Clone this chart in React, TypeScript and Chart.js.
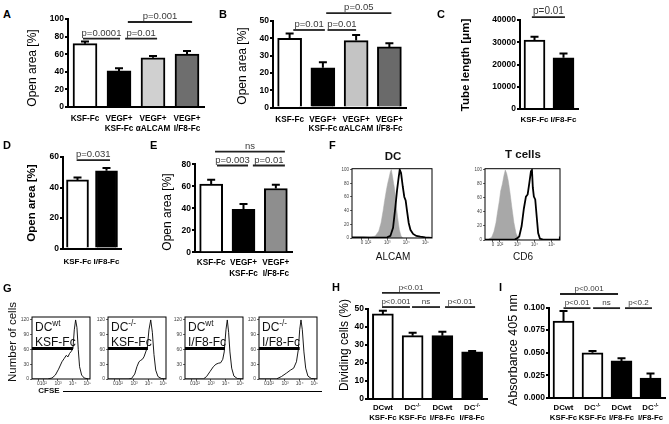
import React, { useEffect, useRef } from 'react';
import { Chart, registerables } from 'chart.js';

Chart.register(...registerables);

const FONT = "'Liberation Sans', Arial, Helvetica, sans-serif";
Chart.defaults.font.family = FONT;

// ---------------- DATA ----------------
// Panel A
const aCategories = [['KSF-Fc'], ['VEGF+', 'KSF-Fc'], ['VEGF+', 'αALCAM'], ['VEGF+', 'I/F8-Fc']];
const aValues = [72, 41, 56, 60];
const aErrors = [2.3, 3, 2, 3.5];
const aTicks = [0, 20, 40, 60, 80, 100];
const aTickLabels = ['0', '20', '40', '60', '80', '100'];
const aColors = ['#ffffff', '#000000', '#d0d0d0', '#6e6e6e'];
const aBrackets = [
  { from: -0.06, to: 1.03, y: 77.8, text: 'p=0.0001' },
  { from: 1.18, to: 2.12, y: 77.8, text: 'p=0.01' },
  { from: 1.26, to: 3.15, y: 96.6, text: 'p=0.001' },
];

// Panel B
const bCategories = [['KSF-Fc'], ['VEGF+', 'KSF-Fc'], ['VEGF+', 'αALCAM'], ['VEGF+', 'I/F8-Fc']];
const bValues = [40, 23, 38.7, 35];
const bErrors = [2.8, 3.2, 3.2, 2.1];
const bTicks = [0, 10, 20, 30, 40, 50];
const bTickLabels = ['0', '10', '20', '30', '40', '50'];
const bColors = ['#ffffff', '#000000', '#c4c4c4', '#6a6a6a'];
const bBrackets = [
  { from: 0.11, to: 1.06, y: 44.8, text: 'p=0.01' },
  { from: 1.14, to: 2.0, y: 44.8, text: 'p=0.01' },
  { from: 1.1, to: 3.06, y: 54.5, text: 'p=0.05' },
];

// Panel C
const cCategories = [['KSF-Fc'], ['I/F8-Fc']];
const cValues = [31000, 23000];
const cErrors = [1500, 2000];
const cTicks = [0, 10000, 20000, 30000, 40000];
const cTickLabels = ['0', '10000', '20000', '30000', '40000'];
const cColors = ['#ffffff', '#000000'];
const cBrackets = [{ from: -0.09, to: 1.05, y: 41300, text: 'p=0.01' }];

// Panel D
const dCategories = [['KSF-Fc'], ['I/F8-Fc']];
const dValues = [45, 51];
const dErrors = [1.6, 1.8];
const dTicks = [0, 20, 40, 60];
const dTickLabels = ['0', '20', '40', '60'];
const dColors = ['#ffffff', '#000000'];
const dBrackets = [{ from: -0.03, to: 1.12, y: 58, text: 'p=0.031' }];

// Panel E
const eCategories = [['KSF-Fc'], ['VEGF+', 'KSF-Fc'], ['VEGF+', 'I/F8-Fc']];
const eValues = [62, 39, 58];
const eErrors = [4, 5, 3.5];
const eTicks = [0, 20, 40, 60, 80];
const eTickLabels = ['0', '20', '40', '60', '80'];
const eColors = ['#ffffff', '#000000', '#8e8e8e'];
const eBrackets = [
  { from: 0.12, to: 2.28, y: 91.5, text: 'ns' },
  { from: 0.18, to: 1.14, y: 78.9, text: 'p=0.003' },
  { from: 1.29, to: 2.28, y: 78.9, text: 'p=0.01' },
];

// Panel H
const hCategories = [['DCwt', 'KSF-Fc'], ['DC^-/-', 'KSF-Fc'], ['DCwt', 'I/F8-Fc'], ['DC^-/-', 'I/F8-Fc']];
const hValues = [47, 35, 35, 26];
const hErrors = [1.7, 1.6, 2.1, 0.5];
const hTicks = [0, 10, 20, 30, 40, 50];
const hTickLabels = ['0', '10', '20', '30', '40', '50'];
const hColors = ['#ffffff', '#ffffff', '#000000', '#000000'];
const hBrackets = [
  { from: -0.03, to: 1.92, y: 58.6, text: 'p<0.01' },
  { from: -0.03, to: 0.91, y: 50.8, text: 'p<0.001' },
  { from: 0.98, to: 1.92, y: 50.8, text: 'ns' },
  { from: 2.09, to: 3.1, y: 50.8, text: 'p<0.01' },
];

// Panel I
const iCategories = [['DCwt', 'KSF-Fc'], ['DC^-/-', 'KSF-Fc'], ['DCwt', 'I/F8-Fc'], ['DC^-/-', 'I/F8-Fc']];
const iValues = [0.085, 0.05, 0.041, 0.022];
const iErrors = [0.011, 0.002, 0.003, 0.005];
const iTicks = [0, 0.025, 0.05, 0.075, 0.1];
const iTickLabels = ['0.000', '0.025', '0.050', '0.075', '0.100'];
const iColors = ['#ffffff', '#ffffff', '#000000', '#000000'];
const iBrackets = [
  { from: -0.12, to: 1.88, y: 0.1149, text: 'p<0.001' },
  { from: 0.0, to: 0.93, y: 0.0993, text: 'p<0.01' },
  { from: 1.02, to: 1.95, y: 0.0993, text: 'ns' },
  { from: 2.12, to: 3.05, y: 0.0993, text: 'p<0.2' },
];

// Panel F histograms (x in log10 units, y in % of max)
const flowTickLabels = ['0', '10²', '10³', '10⁴', '10⁵'];
const fPctTicks = [0, 20, 40, 60, 80, 100];
const fPctLabels = ['0', '20', '40', '60', '80', '100'];
const dcTicksX = [1.68, 2, 3, 4, 5];
const dcIsoX = [1.16, 2.0, 2.12, 2.38, 2.56, 2.68, 2.79, 2.87, 2.96, 3.03, 3.1, 3.17, 3.22, 3.27, 3.34, 3.4, 3.47, 3.55, 3.64, 3.73, 3.83, 5.35];
const dcIsoY = [0, 0, 1, 3, 10, 22, 40, 55, 70, 80, 88, 97, 100, 92, 80, 70, 50, 30, 12, 3, 0, 0];
const dcAlcamX = [1.16, 1.77, 2.3, 3.0, 3.17, 3.31, 3.43, 3.52, 3.61, 3.66, 3.73, 3.82, 3.9, 3.97, 4.04, 4.13, 4.22, 4.36, 4.53, 4.74, 5.0, 5.35];
const dcAlcamY = [1, 1, 0.5, 1, 3, 15, 45, 70, 90, 100, 95, 75, 60, 55, 40, 22, 12, 6, 3, 2, 1, 0];
const tTicksX = [1.59, 2, 3, 4, 5];
const tIsoX = [1.13, 1.2, 1.32, 1.52, 1.65, 1.77, 1.86, 1.96, 2.04, 2.14, 2.23, 2.31, 2.39, 2.48, 2.58, 2.7, 2.81, 2.93, 3.06, 3.2, 5.49];
const tIsoY = [0, 0, 1, 4, 12, 25, 40, 55, 70, 80, 92, 100, 95, 85, 68, 45, 25, 10, 3, 0, 0];
const tCd6X = [1.13, 2.19, 2.87, 2.97, 3.12, 3.26, 3.39, 3.51, 3.61, 3.7, 3.8, 3.86, 3.91, 3.97, 4.05, 4.13, 4.22, 4.32, 4.51, 5.44, 5.48];
const tCd6Y = [0.5, 0.5, 1, 2, 5, 20, 45, 62, 65, 80, 98, 100, 75, 62, 58, 35, 10, 2, 0.5, 0.5, 5];

// Panel G CFSE histograms
const gTicksX = [1.66, 2, 3, 4, 5];
const gCountTicks = [0, 30, 60, 90, 120];
const gCountLabels = ['0', '30', '60', '90', '120'];
const g1X = [1.23, 2.3, 2.59, 2.82, 3.04, 3.27, 3.43, 3.56, 3.68, 3.79, 3.9, 4.02, 4.11, 4.2, 4.29, 4.38, 4.47, 4.61, 4.79, 5.08, 5.18];
const g1Y = [0, 0, 2, 8, 20, 35, 42, 48, 45, 52, 56, 62, 100, 120, 105, 60, 25, 8, 2, 0, 0];
const g2X = [1.23, 2.6, 2.83, 3.05, 3.2, 3.34, 3.46, 3.57, 3.68, 3.8, 3.91, 4.02, 4.14, 4.25, 4.36, 4.48, 4.63, 4.86, 5.18];
const g2Y = [0, 0, 1, 10, 25, 35, 38, 40, 45, 55, 65, 100, 120, 95, 50, 18, 5, 1, 0];
const g3X = [1.23, 2.48, 2.7, 2.93, 3.16, 3.34, 3.5, 3.66, 3.8, 3.9, 4.02, 4.11, 4.2, 4.29, 4.41, 4.56, 4.79, 5.18];
const g3Y = [0, 0, 5, 15, 25, 30, 32, 33, 40, 55, 100, 120, 95, 55, 22, 6, 1, 0];
const g4X = [1.23, 2.41, 2.76, 3.1, 3.37, 3.59, 3.78, 3.91, 4.0, 4.09, 4.18, 4.29, 4.41, 4.56, 4.79, 5.18];
const g4Y = [0, 0, 5, 12, 18, 22, 35, 60, 100, 120, 100, 55, 22, 6, 1, 0];
const gGateEnds = [4.02, 3.95, 3.95, 4.0];
const gGateLevel = 62;
const gLabels = [['DC^wt', 'KSF-Fc'], ['DC^-/-', 'KSF-Fc'], ['DC^wt', 'I/F8-Fc'], ['DC^-/-', 'I/F8-Fc']];

// ---------------- HELPERS ----------------
function drawRich(c: CanvasRenderingContext2D, text: string, x: number, y: number, size: number, bold: boolean, align: string, color: string) {
  const parts = text.split('^');
  const base = parts[0];
  const sup = parts[1] || '';
  const w = bold ? 'bold ' : '';
  const f1 = `${w}${size}px ${FONT}`;
  const s2 = size * 0.68;
  const f2 = `${w}${s2}px ${FONT}`;
  c.font = f1;
  const w1 = c.measureText(base).width;
  c.font = f2;
  const w2 = sup ? c.measureText(sup).width : 0;
  const total = w1 + w2;
  const x0 = align === 'center' ? x - total / 2 : x;
  c.fillStyle = color;
  c.textAlign = 'left';
  c.textBaseline = 'alphabetic';
  c.font = f1;
  c.fillText(base, x0, y);
  if (sup) {
    c.font = f2;
    c.fillText(sup, x0 + w1, y - size * 0.42);
  }
}

type Bracket = { from: number; to: number; y: number; text: string };
type Geo = {
  axisX: number; zeroY: number; topY: number; right: number; canvasLeft: number; canvasTop: number;
  barW: number; capW: number; titleX: number; titleY: number; titleSize: number; titleBold: boolean;
  tickSize: number; labelSize: number; labelBase: number; labelGap: number; bracketSize: number;
};
type BarSpec = {
  categories: string[][]; values: number[]; errors: number[]; colors: string[];
  ticks: number[]; tickLabels: string[]; brackets: Bracket[]; title: string; geo: Geo;
};

function BarPanel({ spec }: { spec: BarSpec }) {
  const ref = useRef<HTMLCanvasElement>(null);
  const g = spec.geo;
  const width = Math.round(g.right + 8 - g.canvasLeft);
  const height = Math.round(g.zeroY + 34 - g.canvasTop);
  useEffect(() => {
    const ctx = ref.current!.getContext('2d')!;
    const yw = g.axisX - g.canvasLeft;
    const padTop = g.topY - g.canvasTop;
    const xh = height - (g.zeroY - g.canvasTop);
    const plugin = {
      id: 'extras',
      afterDatasetsDraw(chart: any) {
        const c = chart.ctx;
        const meta = chart.getDatasetMeta(0);
        const ys = chart.scales.y;
        c.save();
        c.strokeStyle = '#000';
        c.lineWidth = 2;
        meta.data.forEach((el: any, i: number) => {
          const x = el.x;
          const yT = el.y;
          const yE = ys.getPixelForValue(spec.values[i] + spec.errors[i]);
          c.beginPath();
          c.moveTo(x, yT);
          c.lineTo(x, yE);
          c.moveTo(x - g.capW / 2, yE);
          c.lineTo(x + g.capW / 2, yE);
          c.stroke();
        });
        c.restore();
      },
      afterDraw(chart: any) {
        const c = chart.ctx;
        const xs = chart.scales.x;
        const ys = chart.scales.y;
        c.save();
        spec.categories.forEach((lines, i) => {
          const x = xs.getPixelForValue(i);
          lines.forEach((t, j) => {
            drawRich(c, t, x, g.zeroY - g.canvasTop + g.labelBase + j * g.labelGap, g.labelSize, true, 'center', '#000');
          });
        });
        c.strokeStyle = '#222';
        c.lineWidth = 1.8;
        spec.brackets.forEach((b) => {
          const y = ys.getPixelForValue(b.y);
          const x1 = xs.getPixelForValue(b.from);
          const x2 = xs.getPixelForValue(b.to);
          c.beginPath();
          c.moveTo(x1, y);
          c.lineTo(x2, y);
          c.stroke();
          drawRich(c, b.text, (x1 + x2) / 2, y - 3, g.bracketSize, false, 'center', '#3a3a3a');
        });
        c.translate(g.titleX - g.canvasLeft, g.titleY - g.canvasTop);
        c.rotate(-Math.PI / 2);
        c.font = `${g.titleBold ? 'bold ' : ''}${g.titleSize}px ${FONT}`;
        c.fillStyle = '#000';
        c.textAlign = 'center';
        c.textBaseline = 'middle';
        c.fillText(spec.title, 0, 0);
        c.restore();
      },
    };
    const chart = new Chart(ctx, {
      type: 'bar',
      data: {
        labels: spec.categories.map((l) => l.join(' ')),
        datasets: [
          {
            data: spec.values,
            backgroundColor: spec.colors,
            borderColor: '#000',
            borderWidth: 2,
            barThickness: g.barW,
          },
        ],
      },
      options: {
        animation: false,
        responsive: false,
        maintainAspectRatio: false,
        devicePixelRatio: 1,
        layout: { padding: { left: 0, top: padTop, right: 8, bottom: 0 } },
        plugins: { legend: { display: false }, tooltip: { enabled: false } },
        scales: {
          x: {
            offset: true,
            grid: { display: false },
            border: { display: true, color: '#000', width: 2 },
            ticks: { display: false },
            afterFit: (s: any) => { s.height = xh; },
          },
          y: {
            min: spec.ticks[0],
            max: spec.ticks[spec.ticks.length - 1],
            afterBuildTicks: (s: any) => { s.ticks = spec.ticks.map((v) => ({ value: v })); },
            ticks: {
              callback: (_v: any, i: number) => spec.tickLabels[i],
              font: { family: FONT, size: g.tickSize, weight: 'bold' },
              color: '#000',
              padding: 1,
            },
            grid: { display: true, drawOnChartArea: false, drawTicks: true, tickLength: 3, color: '#000', lineWidth: 2 },
            border: { display: true, color: '#000', width: 2 },
            afterFit: (s: any) => { s.width = yw; },
          },
        },
      } as any,
      plugins: [plugin],
    });
    return () => chart.destroy();
  }, []);
  return (
    <canvas
      ref={ref}
      width={width}
      height={height}
      style={{ position: 'absolute', left: g.canvasLeft, top: g.canvasTop, width, height }}
    />
  );
}

type HistSpec = {
  box: { left: number; top: number; w: number; h: number };
  xMin: number; xMax: number; yMax: number;
  xTicks: number[]; xTickLabels: string[]; yTicks: number[]; yTickLabels: string[];
  fillX?: number[]; fillY?: number[];
  lineX: number[]; lineY: number[]; lineWidth: number;
  gateX?: number[]; gateY?: number[];
  inner?: string[]; tickSize: number;
};

function pts(xs: number[], ys: number[]) {
  return xs.map((x, i) => ({ x, y: ys[i] }));
}

function Hist({ spec }: { spec: HistSpec }) {
  const ref = useRef<HTMLCanvasElement>(null);
  const yw = 13, xh = 9, pt = 3, pr = 3;
  const width = spec.box.w + yw + pr;
  const height = spec.box.h + pt + xh;
  useEffect(() => {
    const ctx = ref.current!.getContext('2d')!;
    const datasets: any[] = [];
    if (spec.fillX && spec.fillY) {
      datasets.push({
        data: pts(spec.fillX, spec.fillY), fill: 'origin', backgroundColor: '#a8a8a8',
        borderColor: '#a8a8a8', borderWidth: 0.5, pointRadius: 0, order: 3,
      });
    }
    datasets.push({
      data: pts(spec.lineX, spec.lineY), fill: false, borderColor: '#000',
      borderWidth: spec.lineWidth, pointRadius: 0, order: 2,
    });
    if (spec.gateX && spec.gateY) {
      datasets.push({
        data: pts(spec.gateX, spec.gateY), fill: false, borderColor: '#000',
        borderWidth: 3, pointRadius: 0, order: 1,
      });
    }
    const plugin = {
      id: 'box',
      afterDraw(chart: any) {
        const c = chart.ctx;
        const a = chart.chartArea;
        c.save();
        c.strokeStyle = '#000';
        c.lineWidth = 1;
        c.strokeRect(a.left, a.top, a.right - a.left, a.bottom - a.top);
        if (spec.inner) {
          spec.inner.forEach((t, j) => {
            drawRich(c, t, a.left + 3, a.top + 14 + j * 14.5, 12, false, 'left', '#111');
          });
        }
        c.restore();
      },
    };
    const tickFont = { family: FONT, size: spec.tickSize };
    const chart = new Chart(ctx, {
      type: 'line',
      data: { datasets },
      options: {
        animation: false,
        responsive: false,
        maintainAspectRatio: false,
        devicePixelRatio: 1,
        layout: { padding: { left: 0, top: pt, right: pr, bottom: 0 } },
        plugins: { legend: { display: false }, tooltip: { enabled: false } },
        elements: { line: { tension: 0 } },
        scales: {
          x: {
            type: 'linear', min: spec.xMin, max: spec.xMax,
            afterBuildTicks: (s: any) => { s.ticks = spec.xTicks.map((v) => ({ value: v })); },
            ticks: { callback: (_v: any, i: number) => spec.xTickLabels[i], font: tickFont, color: '#444', padding: 0, autoSkip: false, maxRotation: 0 },
            grid: { display: true, drawOnChartArea: false, tickLength: 2, color: '#000', lineWidth: 0.6 },
            border: { display: false },
            afterFit: (s: any) => { s.height = xh; },
          },
          y: {
            min: 0, max: spec.yMax,
            afterBuildTicks: (s: any) => { s.ticks = spec.yTicks.map((v) => ({ value: v })); },
            ticks: { callback: (_v: any, i: number) => spec.yTickLabels[i], font: tickFont, color: '#444', padding: 1, autoSkip: false },
            grid: { display: true, drawOnChartArea: false, tickLength: 2, color: '#000', lineWidth: 0.6 },
            border: { display: false },
            afterFit: (s: any) => { s.width = yw; },
          },
        },
      } as any,
      plugins: [plugin],
    });
    return () => chart.destroy();
  }, []);
  return (
    <canvas
      ref={ref}
      width={width}
      height={height}
      style={{ position: 'absolute', left: spec.box.left - yw, top: spec.box.top - pt, width, height }}
    />
  );
}

// ---------------- SPECS ----------------
const panelA: BarSpec = {
  categories: aCategories, values: aValues, errors: aErrors, colors: aColors, ticks: aTicks, tickLabels: aTickLabels,
  brackets: aBrackets, title: 'Open area [%]',
  geo: { axisX: 68, zeroY: 107, topY: 19, right: 204, canvasLeft: 22, canvasTop: 0, barW: 24, capW: 8, titleX: 33, titleY: 68, titleSize: 12, titleBold: false, tickSize: 8.5, labelSize: 8.2, labelBase: 14, labelGap: 9.5, bracketSize: 9.5 },
};
const panelB: BarSpec = {
  categories: bCategories, values: bValues, errors: bErrors, colors: bColors, ticks: bTicks, tickLabels: bTickLabels,
  brackets: bBrackets, title: 'Open area [%]',
  geo: { axisX: 273, zeroY: 107.5, topY: 21, right: 406, canvasLeft: 232, canvasTop: 0, barW: 24, capW: 8, titleX: 243, titleY: 66, titleSize: 12, titleBold: false, tickSize: 8.5, labelSize: 8.2, labelBase: 14, labelGap: 9.5, bracketSize: 9.5 },
};
const panelC: BarSpec = {
  categories: cCategories, values: cValues, errors: cErrors, colors: cColors, ticks: cTicks, tickLabels: cTickLabels,
  brackets: cBrackets, title: 'Tube length [μm]',
  geo: { axisX: 520, zeroY: 109, topY: 20, right: 578, canvasLeft: 455, canvasTop: 0, barW: 21, capW: 8, titleX: 466, titleY: 65, titleSize: 11.5, titleBold: true, tickSize: 8.5, labelSize: 8, labelBase: 13, labelGap: 10, bracketSize: 10 },
};
const panelD: BarSpec = {
  categories: dCategories, values: dValues, errors: dErrors, colors: dColors, ticks: dTicks, tickLabels: dTickLabels,
  brackets: dBrackets, title: 'Open area [%]',
  geo: { axisX: 63, zeroY: 248.5, topY: 157, right: 121, canvasLeft: 22, canvasTop: 140, barW: 22, capW: 8, titleX: 32, titleY: 203, titleSize: 11.5, titleBold: true, tickSize: 8.5, labelSize: 8, labelBase: 15, labelGap: 10, bracketSize: 9.5 },
};
const panelE: BarSpec = {
  categories: eCategories, values: eValues, errors: eErrors, colors: eColors, ticks: eTicks, tickLabels: eTickLabels,
  brackets: eBrackets, title: 'Open area [%]',
  geo: { axisX: 195, zeroY: 252.3, topY: 164.3, right: 292, canvasLeft: 158, canvasTop: 140, barW: 23, capW: 8, titleX: 168, titleY: 212, titleSize: 12, titleBold: false, tickSize: 8.5, labelSize: 8.2, labelBase: 13, labelGap: 10.5, bracketSize: 9.5 },
};
const panelH: BarSpec = {
  categories: hCategories, values: hValues, errors: hErrors, colors: hColors, ticks: hTicks, tickLabels: hTickLabels,
  brackets: hBrackets, title: 'Dividing cells (%)',
  geo: { axisX: 368, zeroY: 399, topY: 308.5, right: 487, canvasLeft: 336, canvasTop: 280, barW: 21, capW: 8, titleX: 345, titleY: 345, titleSize: 12, titleBold: false, tickSize: 8.5, labelSize: 7.8, labelBase: 11, labelGap: 10, bracketSize: 8 },
};
const panelI: BarSpec = {
  categories: iCategories, values: iValues, errors: iErrors, colors: iColors, ticks: iTicks, tickLabels: iTickLabels,
  brackets: iBrackets, title: 'Absorbance 405 nm',
  geo: { axisX: 549, zeroY: 398, topY: 307.5, right: 665, canvasLeft: 500, canvasTop: 280, barW: 21, capW: 8, titleX: 514, titleY: 350, titleSize: 12.5, titleBold: false, tickSize: 8.5, labelSize: 7.8, labelBase: 12, labelGap: 10, bracketSize: 8 },
};

const histDC: HistSpec = {
  box: { left: 352, top: 168, w: 80, h: 70 }, xMin: 1.16, xMax: 5.35, yMax: 101.4,
  xTicks: dcTicksX, xTickLabels: flowTickLabels, yTicks: fPctTicks, yTickLabels: fPctLabels,
  fillX: dcIsoX, fillY: dcIsoY, lineX: dcAlcamX, lineY: dcAlcamY, lineWidth: 1.8, tickSize: 4.5,
};
const histT: HistSpec = {
  box: { left: 485, top: 168, w: 75, h: 72 }, xMin: 1.13, xMax: 5.49, yMax: 101.8,
  xTicks: tTicksX, xTickLabels: flowTickLabels, yTicks: fPctTicks, yTickLabels: fPctLabels,
  fillX: tIsoX, fillY: tIsoY, lineX: tCd6X, lineY: tCd6Y, lineWidth: 1.8, tickSize: 4.5,
};
const gCurves = [[g1X, g1Y], [g2X, g2Y], [g3X, g3Y], [g4X, g4Y]];
const gBoxLefts = [32, 108, 185, 259];
const histG: HistSpec[] = gCurves.map((cv, k) => ({
  box: { left: gBoxLefts[k], top: 316, w: 58, h: 63 }, xMin: 1.23, xMax: 5.18, yMax: 126,
  xTicks: gTicksX, xTickLabels: flowTickLabels, yTicks: gCountTicks, yTickLabels: gCountLabels,
  lineX: cv[0], lineY: cv[1], lineWidth: 0.9,
  gateX: [1.23, gGateEnds[k]], gateY: [gGateLevel, gGateLevel],
  inner: gLabels[k], tickSize: 5,
}));

// ---------------- APP ----------------
const letterStyle = (x: number, y: number): React.CSSProperties => ({
  position: 'absolute', left: x, top: y - 7, fontFamily: FONT, fontWeight: 'bold', fontSize: 11, lineHeight: '14px', color: '#000',
});
const centered = (x: number, y: number, size: number, bold: boolean): React.CSSProperties => ({
  position: 'absolute', left: x, top: y, transform: 'translate(-50%, -50%)', fontFamily: FONT,
  fontWeight: bold ? 'bold' : 'normal', fontSize: size, lineHeight: 1, whiteSpace: 'nowrap', color: '#111',
});

export default function App() {
  return (
    <div style={{ position: 'fixed', left: 0, top: 0, width: 669, height: 424, background: '#fff', overflow: 'hidden' }}>
      <BarPanel spec={panelA} />
      <BarPanel spec={panelB} />
      <BarPanel spec={panelC} />
      <BarPanel spec={panelD} />
      <BarPanel spec={panelE} />
      <BarPanel spec={panelH} />
      <BarPanel spec={panelI} />
      <Hist spec={histDC} />
      <Hist spec={histT} />
      {histG.map((s, k) => <Hist key={k} spec={s} />)}

      <div style={letterStyle(3, 14)}>A</div>
      <div style={letterStyle(219, 14)}>B</div>
      <div style={letterStyle(437, 14)}>C</div>
      <div style={letterStyle(3, 145)}>D</div>
      <div style={letterStyle(150, 145)}>E</div>
      <div style={letterStyle(329, 145)}>F</div>
      <div style={letterStyle(3, 288)}>G</div>
      <div style={letterStyle(332, 287)}>H</div>
      <div style={letterStyle(499, 287)}>I</div>

      <div style={centered(393, 156.5, 11.5, true)}>DC</div>
      <div style={centered(523, 155, 11.5, true)}>T cells</div>
      <div style={centered(393, 257, 10, false)}>ALCAM</div>
      <div style={centered(523, 257, 10, false)}>CD6</div>

      <div style={{ ...centered(13, 342, 11.5, false), transform: 'translate(-50%, -50%) rotate(-90deg)' }}>Number of cells</div>
      <div style={centered(49, 391, 8, true)}>CFSE</div>
      <div style={{ position: 'absolute', left: 63, top: 391, width: 259, height: 1, background: '#000' }} />
    </div>
  );
}
